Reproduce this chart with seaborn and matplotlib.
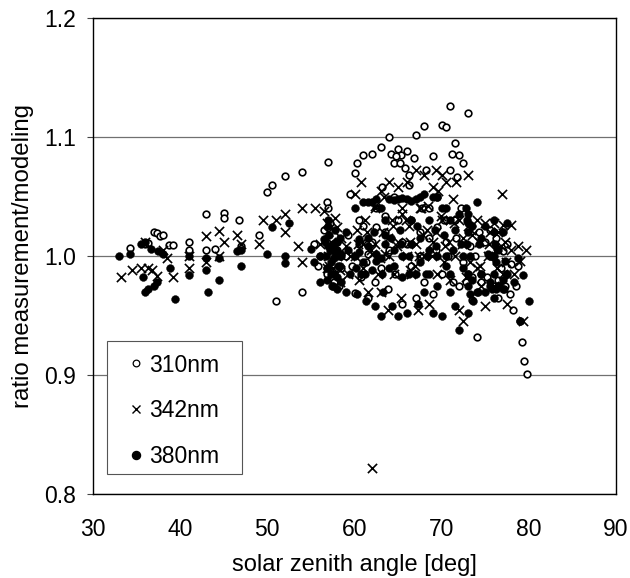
import matplotlib.pyplot as plt
from matplotlib.patches import Rectangle
import seaborn as sns
import pandas as pd

sza_310 = [34.2, 36, 36.3, 37, 37.3, 37.7, 38, 38.7, 39.2, 41, 41, 43, 43, 44, 45, 45, 46.8, 47, 49, 50, 50.5, 51,
           52, 54, 54, 55.3, 55.8, 56, 56.5, 56.8, 56.9, 57, 57, 57.3, 57.5, 58, 58.2, 58.5, 59, 59.3, 59.5, 59.7,
           60, 60, 60.3, 60.5, 60.8, 61, 61, 61.3, 61.5, 62, 62, 62.3, 62.5, 63, 63, 63.2, 63.5, 63.8, 64, 64, 64.5,
           64.7, 65, 65, 65.3, 65.5, 66, 66, 66.3, 66.5, 66.8, 67, 67, 67.5, 67.7, 68, 68, 68.2, 68.5, 69, 69, 69.3,
           69.5, 70, 70, 70.3, 70.5, 70.7, 71, 71, 71.3, 71.5, 71.7, 72, 72, 72.2, 72.5, 73, 73, 73.2, 73.5, 73.8, 74,
           74.3, 74.5, 75, 75.2, 75.5, 76, 76.2, 76.5, 76.8, 77, 77.3, 77.5, 78, 78.2, 78.5, 78.8, 79, 79.2,
           79.5, 79.8]
ratio_310 = [1.007, 1.010, 1.011, 1.020, 1.019, 1.017, 1.018, 1.009, 1.009, 1.012, 1.005, 1.035, 1.005, 1.006, 1.036, 1.032, 1.030, 1.008, 1.018, 1.054, 1.060, 0.962,
             1.067, 1.071, 0.970, 1.010, 0.992, 1.000, 1.022, 1.045, 0.985, 1.079, 1.040, 0.982, 1.005, 1.012, 0.975, 0.990, 1.000, 1.018, 1.052, 0.992,
             1.070, 0.969, 1.078, 1.010, 0.982, 1.085, 1.025, 0.995, 0.965, 1.086, 1.012, 0.978, 1.040, 1.092, 0.990, 1.058, 1.020, 0.972, 1.100, 1.005, 1.078,
             0.985, 1.090, 1.030, 1.085, 0.960, 1.088, 1.010, 1.060, 0.992, 1.082, 1.102, 0.965, 1.000, 1.040, 1.109, 0.978, 1.072, 1.015, 1.084, 0.968, 1.005,
             1.050, 1.110, 0.985, 1.030, 1.108, 1.000, 1.126, 1.072, 0.978, 1.095, 1.015, 1.085, 0.975, 1.040, 1.078, 1.120, 0.985, 1.008, 0.963, 1.000, 0.932,
             1.020, 0.985, 1.012, 0.982, 1.000, 0.975, 1.015, 0.965, 0.990, 1.004, 0.975, 1.010, 0.993, 0.955, 0.975, 0.992, 0.945, 0.928,
             0.912, 0.901]

sza_342 = [33.2, 34.5, 35.5, 36, 36.3, 36.8, 37.3, 38, 38.5, 39.2, 41, 41, 43, 43, 44.5, 44.5, 45, 46.5, 47, 49, 49.5, 51, 52,
           52, 53.5, 54, 54, 55.5, 56, 56.5, 56.8, 57, 57, 57.3, 57.5, 57.8, 58, 58.3, 58.5, 59, 59.2, 59.5, 60, 60, 60.3, 60.5,
           60.8, 61, 61, 61.2, 61.5, 62, 62, 62.3, 62.3, 62.7, 63, 63, 63.3, 63.5, 63.8, 64, 64, 64.3, 64.5, 65, 65, 65.3, 65.5,
           66, 66, 66.3, 66.5, 67, 67, 67.3, 67.5, 68, 68, 68.3, 68.5, 69, 69, 69.3, 69.5, 70, 70, 70.3, 70.5, 70.8, 71, 71, 71.3,
           71.5, 72, 72, 72.3, 72.5, 73, 73, 73.3, 73.5, 74, 74, 74.3, 74.5, 75, 75, 75.3, 75.5, 76, 76, 76.3, 76.5, 76.8, 77, 77,
           77.3, 77.5, 78, 78, 78.3, 78.7, 79, 79.3, 79.7]
ratio_342 = [0.982, 0.988, 0.990, 1.012, 0.990, 0.988, 0.983, 1.005, 0.998, 0.982, 1.000, 0.990, 1.017, 0.995, 1.021, 1.000, 1.012, 1.018, 1.010, 1.010, 1.030, 1.030, 1.020,
             1.035, 1.008, 1.040, 0.995, 1.040, 1.010, 1.038, 1.028, 1.000, 1.020, 1.012, 0.990, 1.032, 1.000, 0.988, 1.015, 1.008, 0.985, 1.000, 1.052, 1.000, 1.022, 0.980,
             1.062, 1.010, 0.990, 1.030, 0.970, 0.822, 1.002, 1.042, 1.010, 0.985, 1.055, 0.970, 1.020, 1.002, 0.955, 1.062, 1.000, 1.030, 0.985, 1.058, 1.012, 0.965, 1.040,
             1.062, 1.000, 1.025, 0.985, 1.072, 1.010, 0.955, 1.040, 1.068, 1.000, 1.022, 0.960, 1.058, 1.012, 1.072, 0.985, 1.068, 1.030, 0.995, 1.062, 1.012, 1.030, 0.980, 1.048,
             1.000, 1.030, 0.955, 1.010, 0.945, 1.068, 1.025, 0.995, 1.018, 1.030, 0.990, 1.012, 0.975, 0.958, 1.028, 1.000, 1.020, 0.975, 1.028, 0.990, 1.020, 1.008, 0.985, 1.026,
             1.012, 0.960, 1.005, 1.026, 0.985, 1.008, 0.996, 0.945, 1.005, 0.990, 0.992]

sza_380 = [33, 34.3, 35.5, 35.7, 36, 36, 36.3, 36.7, 37, 37.3, 37.5, 38, 38.8, 39.4, 41, 41, 43, 43, 43.2, 44.5, 44.5, 46.5, 47,
           47, 50, 50.5, 52, 52, 52.5, 55, 55.3, 56, 56, 56.5, 56.8, 57, 57, 57.3, 57.5, 57.8, 58, 58, 58.3, 58.5, 59, 59, 59.3, 59.5,
           60, 60, 60.3, 60.5, 60.8, 61, 61, 61.3, 61.5, 62, 62, 62.3, 62.5, 63, 63, 63, 63.3, 63.5, 64, 64, 64.3, 64.5, 65, 65, 65.3,
           65.5, 66, 66, 66.3, 66.5, 67, 67, 67.3, 67.5, 68, 68, 68.3, 68.5, 69, 69, 69.3, 69.5, 70, 70, 70.3, 70.5, 71, 71, 71.3, 71.5,
           72, 72, 72.2, 72.5, 73, 73, 73.3, 73.5, 74, 74, 74.3, 74.5, 75, 75, 75.3, 75.5, 76, 76, 76.3, 76.5, 77, 77, 77.3, 77.5, 78.3,
           78.7, 79, 79.3, 80]
ratio_380 = [1.000, 1.002, 1.010, 0.982, 1.012, 0.970, 0.972, 1.006, 0.975, 0.978, 1.004, 1.002, 0.990, 0.964, 1.000, 0.984, 0.998, 0.988, 0.970, 0.998, 0.980, 1.004, 0.992,
             1.005, 1.002, 1.024, 1.000, 0.994, 1.028, 1.006, 0.995, 1.000, 0.978, 1.014, 0.990, 1.030, 1.008, 0.985, 0.975, 1.000, 1.012, 0.972, 0.992, 1.000, 0.970, 1.020, 1.005, 0.985,
             1.040, 1.000, 0.968, 1.014, 0.985, 1.045, 0.995, 0.962, 1.015, 1.045, 0.988, 0.958, 1.002, 1.040, 0.998, 0.950, 0.970, 1.018, 1.048, 0.990, 0.958, 1.005, 1.048, 0.950, 1.010,
             0.982, 1.048, 0.952, 1.000, 1.030, 1.048, 0.985, 0.960, 1.015, 1.052, 0.970, 1.000, 0.985, 1.050, 0.952, 1.008, 0.975, 1.040, 0.950, 1.018, 0.992, 1.030, 0.970, 1.005, 0.958,
             1.035, 0.938, 1.010, 0.990, 1.028, 0.952, 1.000, 0.980, 1.045, 0.970, 1.010, 0.985, 1.025, 0.970, 1.002, 0.978, 1.030, 0.965, 1.006, 0.975, 1.020, 0.972, 0.996, 0.985, 0.978,
             0.998, 0.945, 0.984, 0.962]

extra_sza_310 = [57.2, 57.6, 58, 60.5, 61.5, 62.5, 63.5, 64.5, 65.5, 66.5,
                 67.5, 68.5, 69.5, 70.5, 71.5, 72.5, 73.5, 74.5, 75.5, 76.5,
                 64.2, 64.8, 65.2, 65.8, 66.2, 71.2, 71.8, 72.8, 77.2, 77.8]
extra_ratio_310 = [1.028, 0.978, 1.005, 1.030, 1.002, 1.024, 1.034, 1.050, 1.012, 1.030,
                   1.020, 1.040, 1.024, 1.012, 1.030, 0.995, 0.982, 0.978, 1.022, 0.980,
                   1.086, 1.084, 1.078, 1.074, 1.068, 1.086, 1.066, 0.978, 0.972, 0.968]

extra_sza_342 = [56.8, 57.1, 57.4, 57.7, 58, 58.3, 60.4, 61.4, 62.4, 63.4,
                 64.4, 65.4, 66.4, 67.4, 68.4, 69.4, 70.4, 71.4, 72.4, 73.4,
                 60.9, 61.9, 62.9, 63.9, 64.9, 65.9, 66.9, 67.9, 68.9, 69.9,
                 74.4, 75.4, 76.4, 77.4, 72.8, 66.4, 67.6, 69.6, 71.6, 76.9]
extra_ratio_342 = [1.005, 0.985, 1.024, 0.978, 1.010, 1.020, 1.040, 1.050, 1.025, 1.035,
                   1.012, 1.000, 1.042, 1.020, 1.008, 1.028, 1.015, 1.022, 1.012, 1.005,
                   0.998, 1.015, 1.008, 1.030, 0.992, 1.018, 1.000, 1.034, 0.992, 1.010,
                   1.006, 0.995, 0.982, 0.988, 1.040, 1.055, 1.062, 1.052, 1.060, 1.010]

extra_sza_380 = [56.7, 56.9, 57.1, 57.3, 57.5, 57.7, 57.9, 58.1, 58.3, 58.5,
                 56.8, 57, 57.2, 57.4, 57.6, 57.8, 58, 58.2, 58.4, 56.6,
                 61.5, 62.5, 63.5, 64.5, 65.5, 66.5, 67.5, 68.5, 69.5, 70.5,
                 60.5, 61.5, 62.5, 63.5, 64.5, 65.5, 66.5, 67.5, 68.5, 69.5,
                 60.2, 61.2, 62.2, 63.2, 64.2, 65.2, 66.2, 67.2, 68.2, 69.2,
                 70.5, 71.5, 72.5, 73.5, 74.5, 75.5, 76.5, 77.5, 71, 73,
                 72.8, 72.9, 73, 72.9, 73, 76, 76.1, 76, 76.2, 76,
                 73, 73.3, 73.6, 74.2, 75.5, 75.8, 76.2, 76.6, 77, 77.4]
extra_ratio_380 = [1.000, 0.990, 1.018, 0.995, 1.010, 0.985, 1.005, 0.992, 1.015, 1.002,
                   0.980, 1.025, 1.005, 0.975, 0.998, 1.022, 0.982, 1.000, 0.978, 1.012,
                   1.045, 1.048, 1.030, 1.047, 1.049, 1.046, 1.050, 1.030, 1.050, 1.040,
                   1.003, 1.008, 0.996, 1.010, 0.992, 1.000, 1.010, 0.995, 1.005, 1.000,
                   0.990, 0.985, 1.020, 0.985, 1.015, 1.022, 0.985, 1.025, 0.985, 1.022,
                   1.000, 1.022, 1.000, 1.025, 1.015, 1.000, 1.005, 1.028, 0.985, 1.035,
                   1.040, 1.030, 1.020, 1.010, 0.985, 1.020, 1.010, 1.000, 0.995, 0.985,
                   0.975, 0.968, 0.962, 0.970, 0.975, 0.972, 0.972, 0.975, 0.980, 0.985]

legend_labels = ['310nm', '342nm', '380nm']

rows = []
for name, xs, ys in [(legend_labels[0], sza_310 + extra_sza_310, ratio_310 + extra_ratio_310),
                     (legend_labels[1], sza_342 + extra_sza_342, ratio_342 + extra_ratio_342),
                     (legend_labels[2], sza_380 + extra_sza_380, ratio_380 + extra_ratio_380)]:
    n = min(len(xs), len(ys))
    rows.append(pd.DataFrame({'sza': xs[:n], 'ratio': ys[:n], 'wave': name}))
df = pd.concat(rows)

sns.set_theme(style='white')
plt.rcParams['font.family'] = ['Liberation Sans', 'DejaVu Sans']
plt.rcParams['text.color'] = 'black'
plt.rcParams['axes.labelcolor'] = 'black'
plt.rcParams['xtick.labelcolor'] = 'black'
plt.rcParams['ytick.labelcolor'] = 'black'

fig = plt.figure(figsize=(6.3, 5.78), dpi=100)
ax = fig.add_axes([93 / 630, 1 - 494 / 578, (616 - 93) / 630, (494 - 18) / 578])

sns.scatterplot(data=df[df.wave == '310nm'], x='sza', y='ratio', ax=ax, marker='o', s=23,
                facecolor='white', edgecolor='black', linewidth=1.2, zorder=3)
sns.scatterplot(data=df[df.wave == '342nm'], x='sza', y='ratio', ax=ax, marker='x', s=44,
                color='black', linewidth=1.2, zorder=4)
sns.scatterplot(data=df[df.wave == '380nm'], x='sza', y='ratio', ax=ax, marker='o', s=32,
                color='black', edgecolor='black', linewidth=0.3, zorder=5)

ax.set_xlim(30, 90)
ax.set_ylim(0.8, 1.2)
ax.set_xticks([30, 40, 50, 60, 70, 80, 90])
ax.set_yticks([0.8, 0.9, 1.0, 1.1, 1.2])
ax.set_yticklabels(['0.8', '0.9', '1.0', '1.1', '1.2'])
ax.grid(axis='y', color='#707070', linewidth=0.9)
ax.set_axisbelow(True)
ax.tick_params(axis='y', labelsize=16.5, length=4.5, width=0.8, color='#444444', left=True, pad=8)
ax.tick_params(axis='x', labelsize=16.5, length=0, pad=17)
ax.set_xlabel('solar zenith angle [deg]', fontsize=17, labelpad=10)
ax.set_ylabel('ratio measurement/modeling', fontsize=17.3, labelpad=7)
for s in ax.spines.values():
    s.set_color('black')
    s.set_linewidth(1.0)

# legend box is drawn on its own so the padding can differ per side
ax.add_patch(Rectangle(((107 - 93) / 523, 20 / 476), 135 / 523, 133 / 476, transform=ax.transAxes,
                       facecolor='white', edgecolor='#555555', linewidth=0.8, zorder=6))
handles = [plt.Line2D([], [], ls='', marker='o', mfc='white', mec='black', ms=4.8, mew=0.9),
           plt.Line2D([], [], ls='', marker='x', color='black', ms=5.8, mew=1),
           plt.Line2D([], [], ls='', marker='o', color='black', ms=5.8)]
leg = ax.legend(handles, legend_labels, loc='upper left', bbox_to_anchor=((127 - 93) / 523, 1 - (353.5 - 18) / 476),
                borderaxespad=0, fontsize=16.5, frameon=False, labelspacing=1.0, handletextpad=0.21,
                borderpad=0, handlelength=0.76)
leg.set_zorder(7)

plt.savefig('out.png', dpi=100)
